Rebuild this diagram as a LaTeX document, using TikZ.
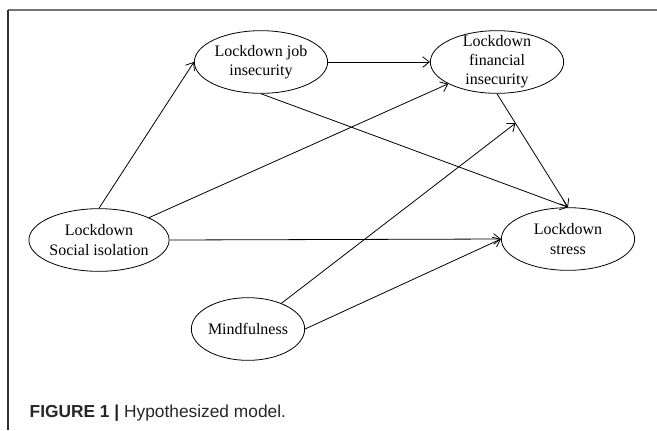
\documentclass[tikz,border=0pt]{standalone}
\usepackage{fontspec}
\setmainfont{Liberation Serif}
\newfontfamily\capfont{Liberation Sans}
\usepackage{tikz}
\usetikzlibrary{arrows,arrows.meta,shapes.geometric}
\usetikzlibrary{calc}

\tikzset{
  construct/.style={draw, ellipse, line width=0.6pt, inner sep=0pt,
    minimum width=100pt, minimum height=47pt, align=center,
    font=\fontsize{12}{14.3}\selectfont},
  link/.style={-{Straight Barb[length=5pt,width=8pt]}, line width=0.6pt}
}

\begin{document}
\begin{tikzpicture}[x=0.75pt,y=-0.75pt]
\useasboundingbox (0,0) rectangle (657,430);

% frame
\draw[color=black!55, line width=1.2pt] (8,10) -- (657,10);
\draw[color=black!80, line width=0.8pt] (8,10) -- (8,430);

\node[construct] (job) at (261,62) {Lockdown job\\insecurity};
\node[construct, inner ysep=-5pt] (fin) at (497,62) {Lockdown\\financial\\insecurity};
\node[construct] (soc) at (99,240) {Lockdown\\Social isolation};
\node[construct] (str) at (568,239) {Lockdown\\stress};
\node[construct, minimum width=85pt] (mind) at (248,329) {Mindfulness};

\coordinate (mod) at ($(fin.south)!0.26!(str.north)$);

\draw[link] (soc.north) -- (job.west);
\draw[link] (soc) -- (fin);
\draw[link] (soc.east) -- (str.west);
\draw[link] (job.east) -- (fin.west);
\draw[link] (job.south) -- (str.north);
\draw[link] (fin.south) -- (str.north);
\draw[link] (mind.east) -- (str.west);
\draw[link] (mind) -- (mod);

\node[anchor=base west, text=black!85, font=\capfont\fontsize{13}{15}\selectfont] (cap) at (25,417) {\textbf{FIGURE 1 |} Hypothesized model.};

\end{tikzpicture}
\end{document}
